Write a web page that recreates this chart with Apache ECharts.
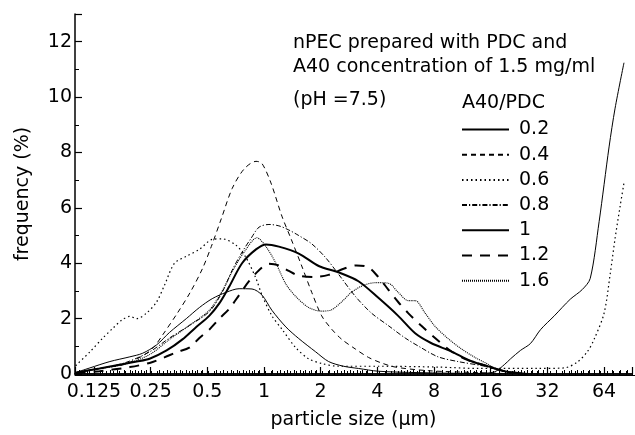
<!DOCTYPE html>
<html>
<head>
<meta charset="utf-8">
<script src="https://cdn.jsdelivr.net/npm/echarts@6/dist/echarts.min.js"></script>
<style>
html,body{margin:0;padding:0;background:#fff;}
#chart{width:635px;height:435px;}
</style>
</head>
<body>
<div id="chart"></div>
<script>
// ---- data (particle size in µm, frequency in %) ----
const ratios = ['0.2', '0.4', '0.6', '0.8', '1', '1.2', '1.6'];
const xTicks = [0.125, 0.25, 0.5, 1, 2, 4, 8, 16, 32, 64];

const size02 = [0.1, 0.119, 0.152, 0.194, 0.227, 0.269, 0.315, 0.387, 0.454, 0.531, 0.63, 0.738, 0.864, 0.976, 1.102, 1.307, 1.53, 1.882, 2.204, 2.646, 3.175, 4.05, 6.58, 13.66, 16.8, 18.98, 20.4, 23.0, 26.0, 29.4, 34.8, 42.3, 49.0, 54.0, 60.2, 68.0, 73.2, 81.6];
const freq02 = [0.05, 0.22, 0.45, 0.62, 0.75, 1.05, 1.5, 2.0, 2.4, 2.72, 2.95, 3.08, 3.07, 2.85, 2.3, 1.7, 1.28, 0.8, 0.45, 0.28, 0.2, 0.1, 0.05, 0.02, 0.08, 0.35, 0.55, 0.85, 1.1, 1.6, 2.1, 2.7, 3.05, 3.45, 5.5, 8.2, 9.6, 11.24];

const size04 = [0.1, 0.134, 0.182, 0.2325, 0.262, 0.289, 0.347, 0.406, 0.471, 0.525, 0.593, 0.678, 0.784, 0.907, 0.976, 1.089, 1.245, 1.389, 1.587, 1.793, 2.025, 2.287, 2.58, 3.06, 3.586, 4.2, 4.98, 7.44, 13.66, 18.51, 28.3];
const freq04 = [0.05, 0.2, 0.35, 0.7, 1.0, 1.4, 2.2, 2.95, 3.8, 4.6, 5.6, 6.7, 7.4, 7.68, 7.6, 6.9, 5.7, 4.9, 3.9, 2.95, 2.1, 1.62, 1.26, 0.9, 0.6, 0.4, 0.25, 0.12, 0.05, 0.02, 0];

const size06 = [0.1, 0.119, 0.1395, 0.1575, 0.176, 0.194, 0.211, 0.238, 0.269, 0.296, 0.335, 0.387, 0.454, 0.531, 0.6, 0.711, 0.803, 0.907, 0.976, 1.102, 1.245, 1.475, 1.728, 2.025, 2.49, 4.05, 8.4, 13.66, 28.3, 39.4, 46.1, 52.1, 56.7, 64, 68.9, 73.2, 77.8, 81.6];
const freq06 = [0.3, 0.8, 1.3, 1.65, 1.95, 2.08, 2.0, 2.2, 2.6, 3.2, 4.0, 4.25, 4.5, 4.86, 4.88, 4.65, 4.2, 3.45, 2.85, 2.1, 1.62, 0.95, 0.55, 0.38, 0.28, 0.28, 0.25, 0.2, 0.2, 0.22, 0.43, 0.8, 1.26, 2.2, 3.6, 4.9, 6.05, 6.9];

const size08 = [0.1, 0.134, 0.182, 0.247, 0.315, 0.401, 0.512, 0.6, 0.678, 0.765, 0.854, 0.941, 1.063, 1.2, 1.355, 1.53, 1.793, 2.126, 2.49, 3.06, 3.72, 4.57, 5.62, 6.83, 8.4, 10.71, 14.88, 17.42, 22.2, 28.3];
const freq08 = [0.05, 0.2, 0.4, 0.8, 1.3, 1.75, 2.25, 2.95, 3.75, 4.4, 4.9, 5.3, 5.4, 5.35, 5.2, 5.0, 4.7, 4.2, 3.6, 2.8, 2.2, 1.75, 1.3, 0.95, 0.62, 0.45, 0.28, 0.15, 0.03, 0];

const size10 = [0.1, 0.134, 0.211, 0.247, 0.304, 0.369, 0.437, 0.512, 0.579, 0.653, 0.765, 0.907, 1.025, 1.2, 1.53, 1.952, 2.49, 3.175, 4.05, 5.16, 6.35, 7.71, 9.84, 12.55, 16, 18.98, 25.1];
const freq10 = [0.05, 0.2, 0.45, 0.55, 0.85, 1.25, 1.7, 2.1, 2.55, 3.15, 4.0, 4.5, 4.68, 4.6, 4.35, 3.9, 3.67, 3.35, 2.75, 2.1, 1.47, 1.12, 0.82, 0.47, 0.25, 0.1, 0];

const size12 = [0.1, 0.134, 0.194, 0.247, 0.296, 0.347, 0.401, 0.454, 0.512, 0.579, 0.653, 0.738, 0.833, 0.941, 1.063, 1.2, 1.355, 1.53, 1.837, 2.204, 2.646, 3.1, 3.586, 4.05, 4.57, 5.16, 5.83, 6.83, 8.1, 9.84, 12.1, 15.42, 18.51, 23.6];
const freq12 = [0.03, 0.1, 0.25, 0.4, 0.6, 0.8, 0.95, 1.3, 1.6, 2.0, 2.35, 2.85, 3.35, 3.75, 3.98, 3.92, 3.72, 3.55, 3.5, 3.58, 3.8, 3.92, 3.85, 3.5, 3.05, 2.6, 2.2, 1.75, 1.3, 0.83, 0.5, 0.28, 0.12, 0];

const size16 = [0.1, 0.134, 0.182, 0.247, 0.315, 0.401, 0.512, 0.6, 0.678, 0.784, 0.918, 1.025, 1.157, 1.307, 1.475, 1.728, 2.025, 2.287, 2.58, 2.916, 3.37, 3.95, 4.57, 5.16, 5.83, 6.35, 7.17, 8.1, 9.49, 11.11, 13.17, 15.42, 17.42, 22.2];
const freq16 = [0.05, 0.2, 0.35, 0.7, 1.25, 1.75, 2.3, 3.0, 3.7, 4.4, 4.92, 4.6, 4.0, 3.25, 2.8, 2.4, 2.27, 2.32, 2.6, 2.95, 3.2, 3.3, 3.28, 2.95, 2.65, 2.65, 2.2, 1.72, 1.28, 0.92, 0.6, 0.36, 0.15, 0.03];

// ---- chart ----
const FONT = 'DejaVu Sans';
const FS = 19;
const X_MIN_EXP = -10 / 3;            // log2 of axis minimum (≈0.0992 µm)
const X_MIN = Math.pow(2, X_MIN_EXP);
const X_MAX = 90;
const G = {left: 75, right: 0, top: 14, bottom: 60};
const styles = [
  {width: 1, type: 'solid'},
  {width: 1, type: [5, 4]},
  {width: 1.2, type: [1.5, 3]},
  {width: 1, type: [5, 2, 1.2, 2]},
  {width: 2, type: 'solid'},
  {width: 2, type: [10, 8]},
  {width: 1.1, type: [1, 1]}
];
const allSizes = [size02, size04, size06, size08, size10, size12, size16];
const allFreq = [freq02, freq04, freq06, freq08, freq10, freq12, freq16];

const series = ratios.map((name, k) => ({
  name: name,
  type: 'line',
  xAxisIndex: 0,
  yAxisIndex: 0,
  symbol: 'none',
  smooth: 0.3,
  clip: true,
  animation: false,
  data: allSizes[k].map((s, i) => [s, allFreq[k][i]]),
  lineStyle: Object.assign({color: '#000'}, styles[k]),
  itemStyle: {color: '#000'}
}));

function fmtX(v) {
  const p = parseFloat(Number(v).toPrecision(6));
  for (const t of xTicks) {
    if (Math.abs(p - t) / t < 1e-4) return String(t);
  }
  return '';
}

const chart = echarts.init(document.getElementById('chart'), null, {renderer: 'canvas'});
chart.setOption({
  animation: false,
  backgroundColor: '#fff',
  textStyle: {fontFamily: FONT, color: '#000'},
  grid: [Object.assign({}, G), Object.assign({}, G)],
  xAxis: [{
    type: 'log',
    gridIndex: 0,
    logBase: 2,
    min: X_MIN,
    max: X_MAX,
    position: 'bottom',
    name: 'particle size (\u03bcm)',
    nameLocation: 'middle',
    nameGap: 37,
    nameTextStyle: {fontSize: FS, fontFamily: FONT, color: '#000'},
    axisLine: {show: true, onZero: false, lineStyle: {color: '#000', width: 1.5}},
    axisTick: {show: true, inside: true, length: 7, lineStyle: {color: '#000', width: 1.2}},
    minorTick: {show: true, splitNumber: 9, length: 4},
    axisLabel: {show: true, interval: 0, fontSize: FS, fontFamily: FONT, color: '#000', margin: 9, formatter: fmtX, hideOverlap: false},
    splitLine: {show: false},
    minorSplitLine: {show: false}
  }, {
    // minor ticks: ninths of an octave on a log2 scale aligned with the main axis
    type: 'value',
    gridIndex: 1,
    position: 'bottom',
    min: X_MIN_EXP,
    max: Math.log2(X_MAX),
    interval: 1 / 9,
    axisLine: {show: true, onZero: false, lineStyle: {color: '#000'}},
    axisTick: {show: true, inside: true, length: 4, lineStyle: {color: '#000'}},
    axisLabel: {show: false},
    splitLine: {show: false}
  }, {
    type: 'value',
    gridIndex: 0,
    position: 'top',
    min: 0, max: 1,
    axisLine: {show: true, lineStyle: {color: '#000', width: 1.5}},
    axisTick: {show: false},
    axisLabel: {show: false},
    splitLine: {show: false}
  }],
  yAxis: [{
    type: 'value',
    gridIndex: 0,
    min: 0,
    max: 13,
    interval: 2,
    name: 'frequency (%)',
    nameLocation: 'middle',
    nameRotate: 90,
    nameGap: 42,
    nameTextStyle: {fontSize: FS, fontFamily: FONT, color: '#000'},
    axisLine: {show: true, onZero: false, lineStyle: {color: '#000', width: 1.5}},
    axisTick: {show: true, inside: true, length: 7, lineStyle: {color: '#000', width: 1.2}},
    minorTick: {show: true, splitNumber: 2, length: 4, lineStyle: {color: '#000', width: 1}},
    axisLabel: {fontSize: FS, fontFamily: FONT, color: '#000', margin: 3,
      formatter: v => (v % 2 === 0 ? String(v) : '')},
    splitLine: {show: false}
  }, {
    type: 'value',
    gridIndex: 1,
    min: 0, max: 1,
    show: false
  }],
  legend: {
    data: ratios,
    orient: 'vertical',
    left: 461,
    top: 120,
    itemWidth: 47,
    itemHeight: 19,
    itemGap: 6.2,
    padding: 0,
    itemStyle: {opacity: 0, borderWidth: 0},
    textStyle: {fontSize: FS, fontFamily: FONT, color: '#000', padding: [0, 0, 0, 5]},
    selectedMode: false
  },
  graphic: [
    {type: 'text', x: 293, y: 43, style: {text: 'nPEC prepared with PDC and', fontSize: FS, fontFamily: FONT, fill: '#000', verticalAlign: 'middle', align: 'left'}},
    {type: 'text', x: 293, y: 67, style: {text: 'A40 concentration of 1.5 mg/ml', fontSize: FS, fontFamily: FONT, fill: '#000', verticalAlign: 'middle', align: 'left'}},
    {type: 'text', x: 293, y: 100, style: {text: '(pH =7.5)', fontSize: FS, fontFamily: FONT, fill: '#000', verticalAlign: 'middle', align: 'left'}},
    {type: 'text', x: 462, y: 103, style: {text: 'A40/PDC', fontSize: FS, fontFamily: FONT, fill: '#000', verticalAlign: 'middle', align: 'left'}}
  ],
  series: series
});
</script>
</body>
</html>
